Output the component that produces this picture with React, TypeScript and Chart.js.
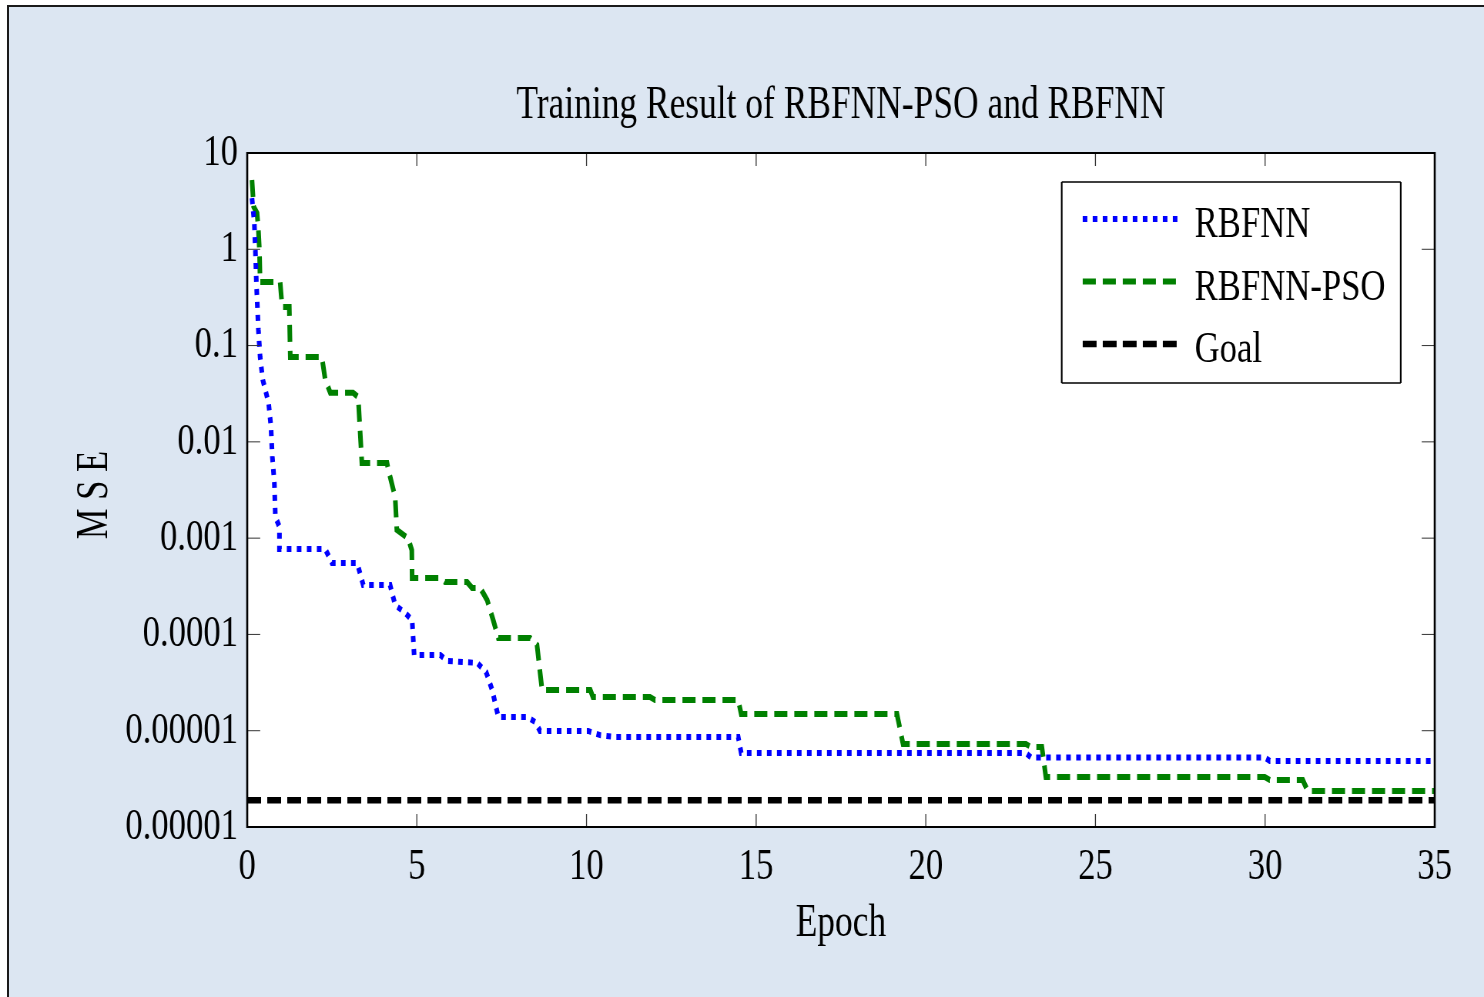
import React, { useEffect, useRef } from "react";
import { Chart, registerables } from "chart.js";

Chart.register(...registerables);

// ---------- data ----------
const rbfnnEpoch = [0.14, 0.21, 0.24, 0.27, 0.33, 0.38, 0.46, 0.63, 0.70, 0.74, 0.80, 0.83, 0.95, 0.95, 2.30, 2.50, 3.24, 3.42, 4.21, 4.36, 4.66, 4.86, 4.92, 5.69, 5.89, 6.78, 7.04, 7.22, 7.40, 8.25, 8.49, 8.63, 10.05, 10.40, 10.84, 14.47, 14.56, 22.95, 23.10, 29.99, 30.14, 35];
const rbfnnMSE = [3.39, 1.87, 0.98, 0.447, 0.145, 0.076, 0.0439, 0.0253, 0.0143, 0.0070, 0.00373, 0.00166, 0.00131, 0.00077, 0.00077, 0.000552, 0.000552, 0.000326, 0.000326, 0.000202, 0.000167, 0.000141, 0.0000612, 0.0000612, 0.000053, 0.0000506, 0.0000407, 0.0000265, 0.0000139, 0.0000139, 0.0000123, 0.00000995, 0.00000995, 0.0000090, 0.0000086, 0.0000086, 0.00000587, 0.00000587, 0.00000527, 0.00000527, 0.00000485, 0.00000485];

const psoEpoch = [0.14, 0.19, 0.29, 0.33, 0.36, 0.38, 0.97, 1.03, 1.24, 1.27, 2.20, 2.30, 2.45, 3.12, 3.27, 3.38, 4.12, 4.16, 4.36, 4.41, 4.74, 4.85, 4.86, 5.69, 5.83, 6.48, 6.63, 6.87, 7.07, 7.25, 7.40, 8.34, 8.54, 8.69, 10.11, 10.19, 11.87, 12.02, 14.47, 14.56, 19.15, 19.33, 22.95, 23.10, 23.42, 23.54, 29.99, 30.14, 31.11, 31.26, 35];
const psoMSE = [5.25, 2.77, 2.38, 1.58, 0.98, 0.457, 0.457, 0.252, 0.252, 0.076, 0.076, 0.044, 0.0323, 0.0323, 0.0292, 0.00604, 0.00604, 0.00513, 0.00267, 0.00122, 0.001, 0.00075, 0.000386, 0.000386, 0.00035, 0.00035, 0.000303, 0.000303, 0.000228, 0.000141, 0.000092, 0.000092, 0.000078, 0.0000265, 0.0000265, 0.0000224, 0.0000224, 0.0000209, 0.0000209, 0.0000149, 0.0000149, 0.00000728, 0.00000728, 0.00000678, 0.00000678, 0.00000331, 0.00000331, 0.00000308, 0.00000308, 0.00000236, 0.00000236];

const goalEpoch = [0, 35];
const goalMSE = [1.9e-6, 1.9e-6];

const yTickValues = [10, 1, 0.1, 0.01, 0.001, 0.0001, 0.00001, 0.000001];
const yTickLabels = ["10", "1", "0.1", "0.01", "0.001", "0.0001", "0.00001", "0.00001"];

const titleText = "Training Result of RBFNN-PSO and RBFNN";
const xTitle = "Epoch";
const yTitle = "M S E";

// ---------- layout ----------
const DISPLAY_W = 1484;
const DISPLAY_H = 997;
const SQUEEZE = 0.77; // condensed text look
const INTERNAL_W = Math.round(DISPLAY_W / SQUEEZE);
const K = INTERNAL_W / DISPLAY_W;
const FONT = "'Liberation Serif', 'Times New Roman', serif";
const FS = 45;

const toPts = (xs: number[], ys: number[]) => xs.map((x, i) => ({ x, y: ys[i] }));

const bgPlugin = {
  id: "plotBg",
  beforeDraw(chart: any) {
    const { ctx, chartArea: a } = chart;
    ctx.save();
    ctx.fillStyle = "#ffffff";
    ctx.fillRect(a.left, a.top, a.right - a.left, a.bottom - a.top);
    ctx.restore();
  },
};

const framePlugin = {
  id: "frame",
  afterDraw(chart: any) {
    const { ctx, chartArea: a, scales } = chart;
    const xs = scales.x;
    const ys = scales.y;
    ctx.save();
    // inward ticks
    ctx.strokeStyle = "#333";
    ctx.lineWidth = 1.3;
    xs.ticks.forEach((t: any) => {
      const px = xs.getPixelForValue(t.value);
      ctx.beginPath();
      ctx.moveTo(px, a.bottom);
      ctx.lineTo(px, a.bottom - 13);
      ctx.moveTo(px, a.top);
      ctx.lineTo(px, a.top + 13);
      ctx.stroke();
    });
    ctx.lineWidth = 1;
    ys.ticks.forEach((t: any) => {
      const py = ys.getPixelForValue(t.value);
      ctx.beginPath();
      ctx.moveTo(a.left, py);
      ctx.lineTo(a.left + 13 * K, py);
      ctx.moveTo(a.right, py);
      ctx.lineTo(a.right - 13 * K, py);
      ctx.stroke();
    });
    // box
    ctx.strokeStyle = "#000";
    ctx.lineWidth = 2;
    ctx.beginPath();
    ctx.moveTo(a.left, a.top);
    ctx.lineTo(a.right, a.top);
    ctx.moveTo(a.left, a.bottom);
    ctx.lineTo(a.right, a.bottom);
    ctx.stroke();
    ctx.lineWidth = 2 * K;
    ctx.beginPath();
    ctx.moveTo(a.left, a.top - 1);
    ctx.lineTo(a.left, a.bottom + 1);
    ctx.moveTo(a.right, a.top - 1);
    ctx.lineTo(a.right, a.bottom + 1);
    ctx.stroke();

    // legend
    const bw = 339 * K;
    const bh = 201;
    const right = a.right - 34 * K;
    const left = right - bw;
    const top = a.top + 29;
    ctx.fillStyle = "#fff";
    ctx.fillRect(left, top, bw, bh);
    ctx.strokeStyle = "#000";
    ctx.lineWidth = 1.6;
    ctx.beginPath();
    ctx.moveTo(left, top);
    ctx.lineTo(right, top);
    ctx.moveTo(left, top + bh);
    ctx.lineTo(right, top + bh);
    ctx.stroke();
    ctx.lineWidth = 1.6 * K;
    ctx.beginPath();
    ctx.moveTo(left, top);
    ctx.lineTo(left, top + bh);
    ctx.moveTo(right, top);
    ctx.lineTo(right, top + bh);
    ctx.stroke();
    chart.data.datasets.forEach((ds: any, i: number) => {
      const ly = top + 37 + i * 62.5;
      ctx.save();
      ctx.strokeStyle = ds.borderColor;
      ctx.lineWidth = ds.borderWidth;
      ctx.setLineDash(ds.borderDash || []);
      ctx.lineCap = "butt";
      ctx.beginPath();
      ctx.moveTo(left + 21 * K, ly);
      ctx.lineTo(left + 118 * K, ly);
      ctx.stroke();
      ctx.restore();
      ctx.fillStyle = "#000";
      ctx.font = `${FS}px ${FONT}`;
      ctx.textAlign = "left";
      ctx.textBaseline = "alphabetic";
      ctx.fillText(ds.label, left + 133 * K, ly + 18);
    });

    // rotated y-axis title (condensed along its reading direction only)
    const txt = ys.options.title.text;
    ctx.save();
    ctx.translate(a.left - 140 * K, (a.top + a.bottom) / 2 + 5);
    ctx.scale(K, 1);
    ctx.rotate(-Math.PI / 2);
    ctx.scale(SQUEEZE, 1);
    ctx.fillStyle = "#000";
    ctx.font = `${FS}px ${FONT}`;
    ctx.textAlign = "center";
    ctx.textBaseline = "alphabetic";
    ctx.fillText(txt, 0, 0);
    ctx.restore();

    ctx.restore();
  },
};

export default function App() {
  const ref = useRef<HTMLCanvasElement>(null);

  useEffect(() => {
    if (!ref.current) return;
    const chart = new Chart(ref.current, {
      type: "line",
      data: {
        datasets: [
          {
            label: "RBFNN",
            data: toPts(rbfnnEpoch, rbfnnMSE),
            borderColor: "#0000ff",
            borderWidth: 6,
            borderDash: [6, 7],
            pointRadius: 0,
            fill: false,
            tension: 0,
            borderCapStyle: "butt",
          },
          {
            label: "RBFNN-PSO",
            data: toPts(psoEpoch, psoMSE),
            borderColor: "#008000",
            borderWidth: 6,
            borderDash: [17, 9],
            pointRadius: 0,
            fill: false,
            tension: 0,
            borderCapStyle: "butt",
          },
          {
            label: "Goal",
            data: toPts(goalEpoch, goalMSE),
            borderColor: "#000000",
            borderWidth: 6.5,
            borderDash: [18, 8],
            pointRadius: 0,
            fill: false,
            tension: 0,
            borderCapStyle: "butt",
          },
        ],
      },
      options: {
        animation: false,
        responsive: false,
        devicePixelRatio: 1,
        events: [],
        layout: { padding: { left: 0, top: 0, right: INTERNAL_W - Math.round(1435 * K), bottom: 0 } },
        plugins: {
          legend: { display: false },
          tooltip: { enabled: false },
          title: {
            display: true,
            text: titleText,
            color: "#000",
            fullSize: false,
            align: "center",
            font: { family: FONT, size: 46, weight: "normal", lineHeight: 1.2 },
            padding: { top: 78, bottom: 19.8 },
          },
        },
        scales: {
          x: {
            type: "linear",
            min: 0,
            max: 35,
            ticks: {
              stepSize: 5,
              color: "#000",
              padding: 13,
              font: { family: FONT, size: FS },
              maxRotation: 0,
            },
            grid: { display: false, drawTicks: false },
            border: { display: false },
            title: {
              display: true,
              text: xTitle,
              color: "#000",
              font: { family: FONT, size: 46, lineHeight: 1.2 },
              padding: { top: 0, bottom: 45 },
            },
            afterFit(scale: any) {
              scale.height = 170;
            },
          },
          y: {
            type: "logarithmic",
            min: 1e-6,
            max: 10,
            afterBuildTicks(scale: any) {
              scale.ticks = yTickValues.map((v) => ({ value: v }));
            },
            ticks: {
              autoSkip: false,
              color: "#000",
              padding: 12,
              font: { family: FONT, size: FS },
              callback(value: any) {
                const idx = yTickValues.findIndex((v) => Math.abs(Math.log10(v) - Math.log10(Number(value))) < 1e-6);
                return idx >= 0 ? yTickLabels[idx] : "";
              },
            },
            grid: { display: false, drawTicks: false },
            border: { display: false },
            title: { display: false, text: yTitle },
            afterFit(scale: any) {
              scale.width = Math.round(247 * K);
            },
          },
        },
      },
      plugins: [bgPlugin, framePlugin],
    } as any);
    return () => chart.destroy();
  }, []);

  return (
    <div
      style={{
        position: "fixed",
        left: 0,
        top: 0,
        width: DISPLAY_W,
        height: DISPLAY_H,
        background: "#ffffff",
        overflow: "hidden",
      }}
    >
      <div
        style={{
          position: "absolute",
          left: 7,
          top: 5,
          width: DISPLAY_W + 10,
          height: DISPLAY_H + 10,
          background: "#dce6f2",
          borderLeft: "2px solid #1a1a1a",
          borderTop: "2px solid #1a1a1a",
          boxSizing: "border-box",
        }}
      />
      <canvas
        ref={ref}
        width={INTERNAL_W}
        height={DISPLAY_H}
        style={{ position: "absolute", left: 0, top: 0, width: DISPLAY_W, height: DISPLAY_H }}
      />
    </div>
  );
}
